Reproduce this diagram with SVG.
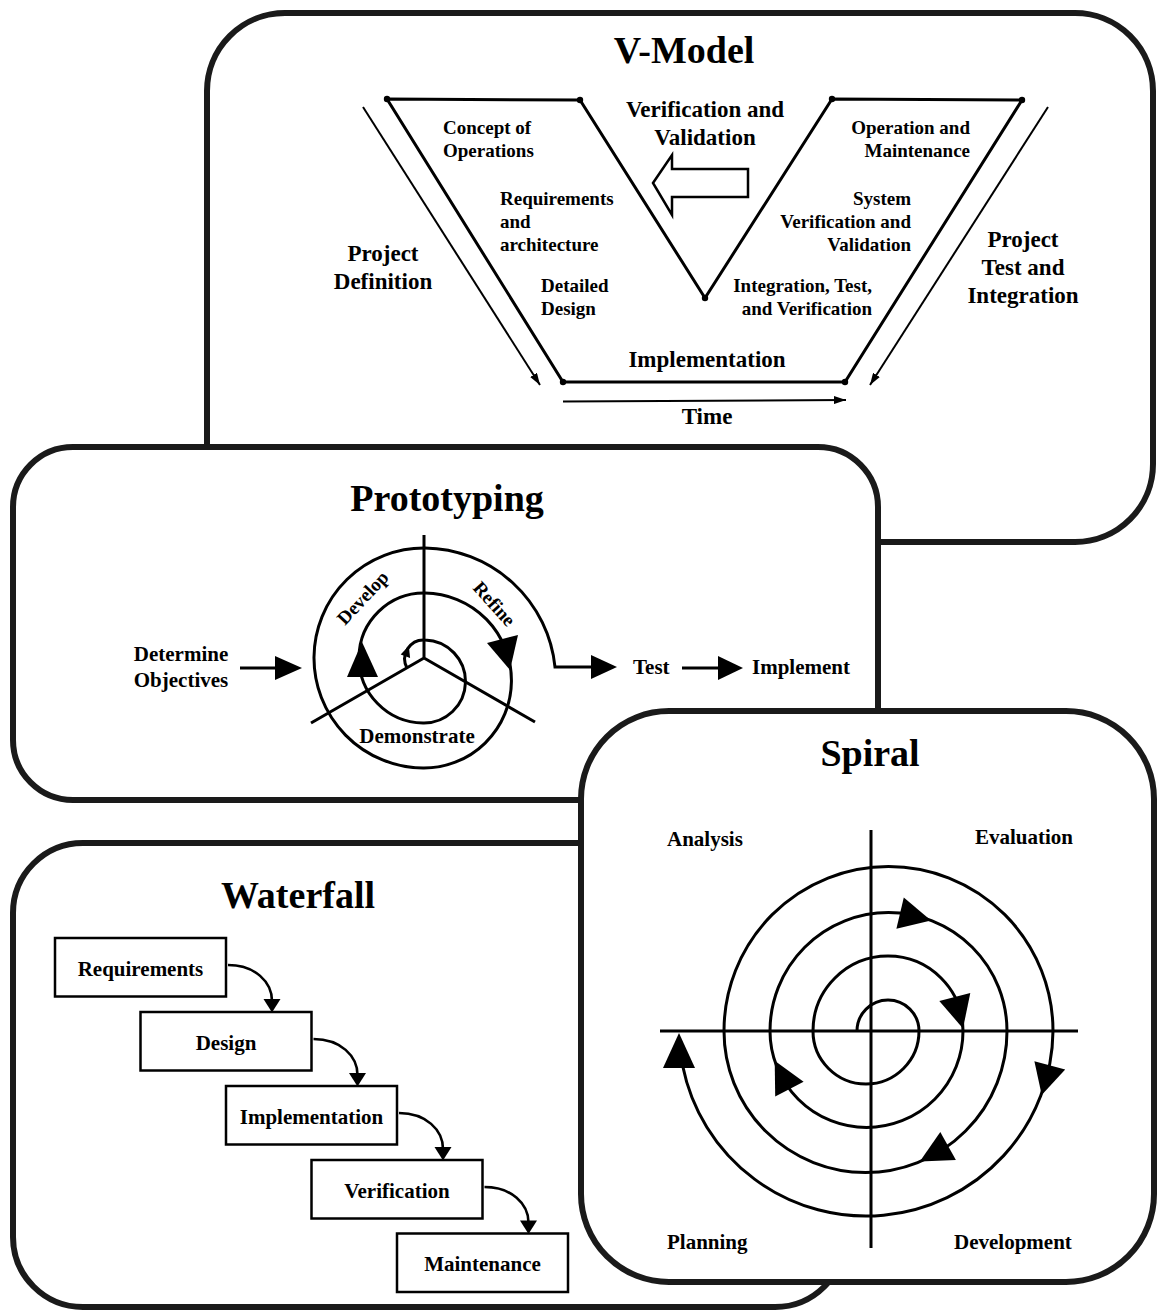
<svg xmlns="http://www.w3.org/2000/svg" width="1157" height="1311" viewBox="0 0 1157 1311">
<defs>
<style>
.box{fill:#fff;stroke:#1a1a1a;stroke-width:6}
.ln{fill:none;stroke:#000;stroke-width:3}
.thin{fill:none;stroke:#000;stroke-width:2}
.wc{fill:none;stroke:#000;stroke-width:2.6}
.wb{fill:#fff;stroke:#000;stroke-width:2.5}
.ah{fill:#000;stroke:none}
text{font-family:"Liberation Serif","Times New Roman",serif;font-weight:bold;fill:#000}
.t19{font-size:19px}
.t21{font-size:21px}
.t23{font-size:23px}
.t38{font-size:38px}
.mid{text-anchor:middle}
.end{text-anchor:end}
</style>
<marker id="arr" viewBox="0 0 12 8" refX="12" refY="4" markerWidth="12" markerHeight="8" markerUnits="userSpaceOnUse" orient="auto">
<path d="M0,0 L12,4 L0,8 z" fill="#000"/>
</marker>
</defs>
<rect width="1157" height="1311" fill="#fff"/>

<!-- V-Model -->
<g id="vmodel">
<rect class="box" x="207" y="13" width="946" height="529" rx="78"/>
<text class="t38 mid" x="684" y="63">V-Model</text>
<path class="ln" d="M387,99 L580,100 L705,298 L832,99 L1022,100 L845,382 L563,382 Z"/>
<g class="ah">
<circle cx="387" cy="99" r="3.2"/><circle cx="580" cy="100" r="3.2"/><circle cx="705" cy="298" r="3.2"/>
<circle cx="832" cy="99" r="3.2"/><circle cx="1022" cy="100" r="3.2"/><circle cx="845" cy="382" r="3.2"/><circle cx="563" cy="382" r="3.2"/>
</g>
<polygon points="653,183 672,155 672,169 748,169 748,197 672,197 672,215" fill="#fff" stroke="#000" stroke-width="2.5"/>
<text class="t23 mid" x="705" y="117">Verification and</text>
<text class="t23 mid" x="705" y="145">Validation</text>
<text class="t19" x="443" y="134">Concept of</text>
<text class="t19" x="443" y="157">Operations</text>
<text class="t19" x="500" y="205">Requirements</text>
<text class="t19" x="500" y="228">and</text>
<text class="t19" x="500" y="251">architecture</text>
<text class="t19" x="541" y="292">Detailed</text>
<text class="t19" x="541" y="315">Design</text>
<text class="t23 mid" x="383" y="261">Project</text>
<text class="t23 mid" x="383" y="289">Definition</text>
<text class="t23 mid" x="707" y="367">Implementation</text>
<text class="t23 mid" x="707" y="424">Time</text>
<text class="t19 end" x="970" y="134">Operation and</text>
<text class="t19 end" x="970" y="157">Maintenance</text>
<text class="t19 end" x="911" y="205">System</text>
<text class="t19 end" x="911" y="228">Verification and</text>
<text class="t19 end" x="911" y="251">Validation</text>
<text class="t19 end" x="872" y="292">Integration, Test,</text>
<text class="t19 end" x="872" y="315">and Verification</text>
<text class="t23 mid" x="1023" y="247">Project</text>
<text class="t23 mid" x="1023" y="275">Test and</text>
<text class="t23 mid" x="1023" y="303">Integration</text>
</g>

<!-- Prototyping -->
<g id="prototyping">
<rect class="box" x="13" y="447" width="865" height="353" rx="60"/>
<text class="t38 mid" x="447" y="511">Prototyping</text>
<path class="ln" d="M424,658 L424,535 M424,658 L311,723 M424,658 L535,722"/>
<path class="ln" d="M407,668 A19,19 0 0 1 425,640 A41.5,41.5 0 0 1 423,723 A65,65 0 0 1 425,593 A87.5,87.5 0 0 1 423,768 A110,110 0 0 1 425,548 A132.5,132.5 0 0 1 555,667 L592,667"/>
<polygon class="ah" points="347,677 378,677 362,642"/>
<polygon class="ah" points="487,643 518,635 510,670"/>
<polygon class="ah" points="400.7,654.5 410.1,657.9 408.8,645.8"/>
<text class="t19 mid" transform="translate(363,598) rotate(-47)" y="6">Develop</text>
<text class="t19 mid" transform="translate(494,604) rotate(48)" y="6">Refine</text>
<text class="t21 mid" x="417" y="743">Demonstrate</text>
<text class="t21 mid" x="181" y="661">Determine</text>
<text class="t21 mid" x="181" y="687">Objectives</text>
<text class="t21" x="633" y="674">Test</text>
<text class="t21" x="752" y="674">Implement</text>
</g>

<!-- Waterfall -->
<g id="waterfall">
<rect class="box" x="13" y="843" width="832" height="464" rx="70"/>
<text class="t38 mid" x="298" y="908">Waterfall</text>
</g>
<g id="wf-requirements"><rect class="wb" x="55" y="938" width="171" height="58.5"/><text class="t21 mid" x="140.5" y="975.5">Requirements</text></g>
<g id="wf-design"><rect class="wb" x="140.5" y="1012" width="171" height="58.5"/><text class="t21 mid" x="226" y="1049.5">Design</text></g>
<g id="wf-implementation"><rect class="wb" x="226" y="1086" width="171" height="58.5"/><text class="t21 mid" x="311.5" y="1123.5">Implementation</text></g>
<g id="wf-verification"><rect class="wb" x="311.5" y="1160" width="171" height="58.5"/><text class="t21 mid" x="397" y="1197.5">Verification</text></g>
<g id="wf-maintenance"><rect class="wb" x="397" y="1233.5" width="171" height="58.5"/><text class="t21 mid" x="482.5" y="1271">Maintenance</text></g>

<!-- Spiral -->
<g id="spiral">
<rect class="box" x="581" y="711" width="573" height="571" rx="88"/>
<text class="t38 mid" x="870" y="766">Spiral</text>
<text class="t21" x="667" y="846">Analysis</text>
<text class="t21" x="975" y="844">Evaluation</text>
<text class="t21" x="667" y="1249">Planning</text>
<text class="t21" x="954" y="1249">Development</text>
<path class="ln" d="M660,1031 L1078,1031 M871,830 L871,1248"/>
<path class="ln" d="M857,1031 A31,31 0 0 1 919,1031 A53,53 0 0 1 813,1031 A75,75 0 0 1 963,1031 A96.5,96.5 0 0 1 770,1031 A118.5,118.5 0 0 1 1007,1031 A141.5,141.5 0 0 1 724,1031 A164.5,164.5 0 0 1 1053,1031 A187,187 0 0 1 682.7,1066"/>
<g class="ah">
<polygon points="931,920.4 896.4,928.7 903.8,897.5"/>
<polygon points="963,1028.4 939.3,1001 970.3,993"/>
<polygon points="1041.7,1095 1034.4,1061.2 1065.2,1069.6"/>
<polygon points="919.8,1161.6 940.3,1131.9 955.9,1159.9"/>
<polygon points="774.7,1060.8 803.6,1081.7 775.2,1096.5"/>
<polygon points="679,1033 663,1068 695,1068"/>
</g>
</g>

<!-- Connectors -->
<g id="connectors">
<line class="thin" x1="363" y1="107" x2="540" y2="385" marker-end="url(#arr)"/>
<line class="thin" x1="1048" y1="107" x2="870" y2="385" marker-end="url(#arr)"/>
<line class="thin" x1="563" y1="401.5" x2="846" y2="400" marker-end="url(#arr)"/>
<line class="ln" x1="240" y1="668" x2="278" y2="668"/>
<polygon class="ah" points="275,656 302,668 275,680"/>
<polygon class="ah" points="591,655 617,667 591,679"/>
<line class="ln" x1="682" y1="668" x2="720" y2="668"/>
<polygon class="ah" points="718,656 743,668 718,680"/>
<path class="wc" d="M228,965 C255,965 272,982 272,1001"/>
<polygon class="ah" points="263.5,999 280.5,999 272,1012.5"/>
<path class="wc" d="M313.5,1039 C340.5,1039 357.5,1056 357.5,1075"/>
<polygon class="ah" points="349,1073 366,1073 357.5,1086.5"/>
<path class="wc" d="M399,1113 C426,1113 443,1130 443,1149"/>
<polygon class="ah" points="434.5,1147 451.5,1147 443,1160.5"/>
<path class="wc" d="M484.5,1187 C511.5,1187 528.5,1204 528.5,1222.5"/>
<polygon class="ah" points="520,1220.5 537,1220.5 528.5,1234"/>
</g>
</svg>
